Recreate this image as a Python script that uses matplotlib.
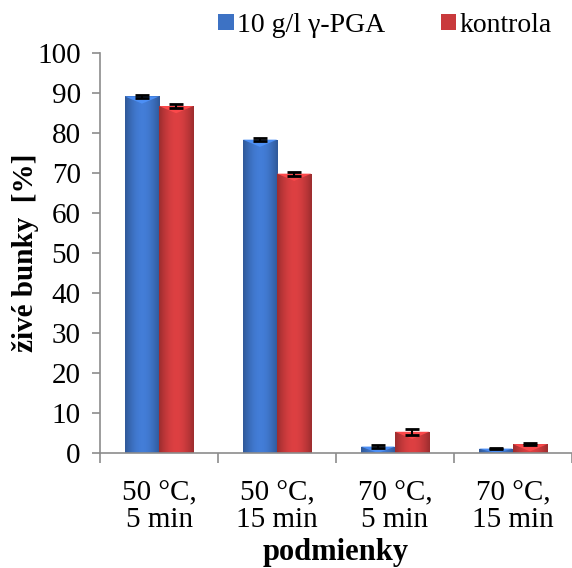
import matplotlib
matplotlib.use("Agg")
import matplotlib.pyplot as plt
import numpy as np

categories = ["50 °C,\n5 min", "50 °C,\n15 min", "70 °C,\n5 min", "70 °C,\n15 min"]
pga = [89.1, 78.3, 1.6, 1.1]
pga_err = [0.3, 0.4, 0.4, 0.2]
kontrola = [86.7, 69.8, 5.3, 2.2]
kontrola_err = [0.5, 0.5, 0.8, 0.3]

plt.rcParams["font.family"] = ["Liberation Serif", "DejaVu Serif"]
plt.rcParams["font.size"] = 21

fig = plt.figure(figsize=(5.72, 5.68), dpi=100)
ax = fig.add_axes([0.175, 0.2025, 0.825, 0.7045])

x = np.arange(len(categories))
w = 0.29
blue, red = "#3d72c4", "#c93a3c"


def shaded_bars(xs, vals, color, label):
    bars = ax.bar(xs, vals, w, color=color, label=label, zorder=2,
                  edgecolor="none")
    base = np.array(matplotlib.colors.to_rgb(color))
    # horizontal shading: darker at the edges, lighter in the middle
    t = np.linspace(0, 1, 64)
    shade = 0.78 + 0.32 * np.sin(np.pi * t)
    img = np.clip(base[None, :] * shade[:, None], 0, 1)[None, :, :]
    for b in bars:
        bx, bw, bh = b.get_x(), b.get_width(), b.get_height()
        im = ax.imshow(img, extent=[bx, bx + bw, 0, bh], aspect="auto",
                       zorder=2.1, interpolation="bilinear")
        im.set_clip_path(b)
        # lighter cap at the top
        cap = min(bh, 1.8)
        ax.fill([bx, bx + bw, bx + bw * 0.5], [bh, bh, bh - cap],
                color=np.clip(base * 1.25, 0, 1), zorder=2.2, lw=0)
    return bars


shaded_bars(x - w / 2, pga, blue, "10 g/l γ-PGA")
shaded_bars(x + w / 2, kontrola, red, "kontrola")
ax.errorbar(x - w / 2, pga, yerr=pga_err, fmt="none", ecolor="black",
            elinewidth=1.5, capsize=5, capthick=2, zorder=3)
ax.errorbar(x + w / 2, kontrola, yerr=kontrola_err, fmt="none", ecolor="black",
            elinewidth=1.5, capsize=5, capthick=2, zorder=3)

ax.set_xlim(-0.5, 3.5)
ax.set_ylim(0, 100)
ax.set_yticks(range(0, 101, 10))
ax.set_xticks(x)
ax.set_xticklabels(categories, linespacing=1.0)
ax.set_xticks(np.arange(-0.5, 3.6, 1), minor=True)
ax.tick_params(axis="x", which="major", length=0, pad=20)
ax.tick_params(axis="x", which="minor", length=7, color="#8c8c8c", width=1.2)
ax.tick_params(axis="y", length=6, color="#8c8c8c", width=1.2, pad=8)

for side in ("top", "right"):
    ax.spines[side].set_visible(False)
for side in ("left", "bottom"):
    ax.spines[side].set_color("#8c8c8c")
    ax.spines[side].set_linewidth(1.2)

ax.set_ylabel("živé bunky  [%]", fontweight="bold", fontsize=21)
ax.yaxis.set_label_coords(-0.13, 0.5)
ax.set_xlabel("podmienky", fontweight="bold", fontsize=22, labelpad=4)

ax.legend(loc="lower right", bbox_to_anchor=(0.98, 1.01), ncol=2,
          frameon=False, handlelength=0.55, handleheight=0.55,
          handletextpad=0.12, columnspacing=2.0, borderaxespad=0,
          fontsize=20)

fig.savefig("out.png", dpi=100)
